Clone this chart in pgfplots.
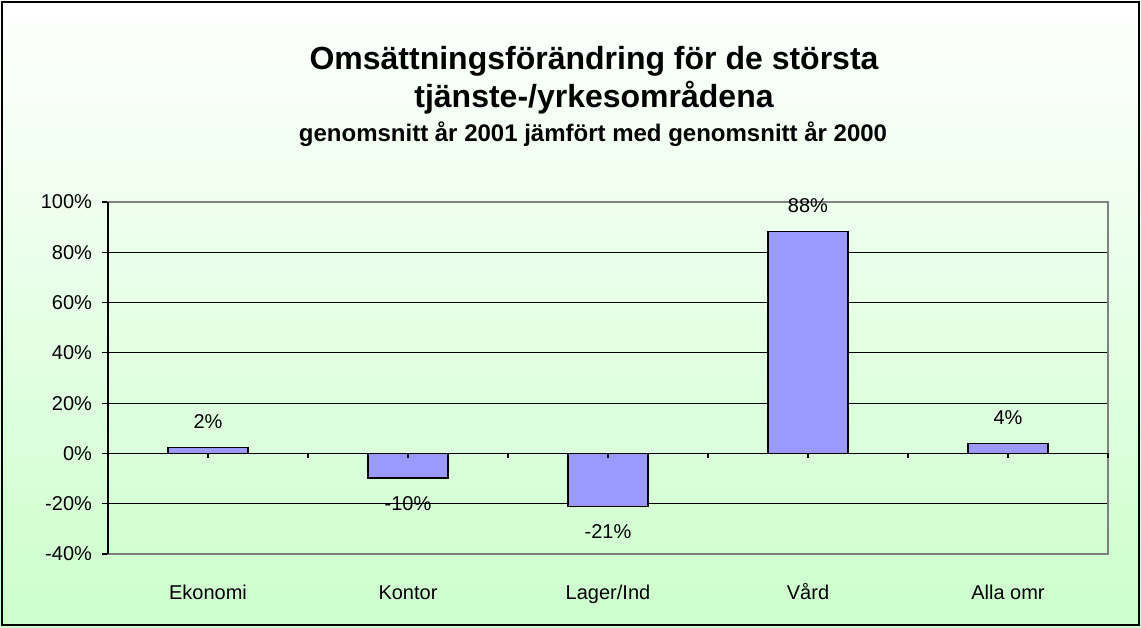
\documentclass[border=0pt]{standalone}
\usepackage{pgfplots}
\pgfplotsset{compat=1.18}
\usepackage{fontspec}
\setmainfont{Liberation Sans}
\definecolor{barfill}{RGB}{153,153,255}
\definecolor{bgbot}{RGB}{204,255,204}
\definecolor{framegray}{RGB}{128,128,128}
\begin{document}
\begin{tikzpicture}
\shade[top color=white, bottom color=bgbot] (0pt,0pt) rectangle (570.5pt,313.5pt);
\draw[black, line width=1.2pt] (0.9pt,0.9pt) rectangle (569.6pt,312.6pt);
\node[anchor=base, inner sep=0pt, font=\fontsize{16}{19}\selectfont\bfseries] at (297pt,278.5pt) {Omsättningsförändring för de största};
\node[anchor=base, inner sep=0pt, font=\fontsize{16}{19}\selectfont\bfseries] at (297pt,259.5pt) {tjänste-/yrkesområdena};
\node[anchor=base, inner sep=0pt, font=\fontsize{12}{14}\selectfont\bfseries] at (296.5pt,242.6pt) {genomsnitt år 2001 jämfört med genomsnitt år 2000};
\begin{axis}[
  at={(54pt,36.5pt)}, anchor=south west,
  scale only axis, width=500pt, height=176pt,
  ybar, bar width=40pt,
  xmin=-0.5, xmax=4.5, ymin=-40, ymax=100,
  axis line style={draw=none},
  clip=false,
  xtick={0,1,2,3,4},
  xticklabels={Ekonomi,Kontor,Lager/Ind,Vård,Alla omr},
  x tick style={draw=none},
  xticklabel style={anchor=base, yshift=-19.5pt, font=\fontsize{10}{12}\selectfont},
  ytick={-40,-20,0,20,40,60,80,100},
  ytick pos=left, ytick align=outside,
  y tick style={black, line width=0.6pt},
  major tick length=3pt,
  yticklabel={\pgfmathprintnumber{\tick}\%},
  yticklabel style={font=\fontsize{10}{12}\selectfont, xshift=-1.5pt},
  /pgf/number format/assume math mode=true,
  ymajorgrids, grid style={black, line width=0.6pt},
  nodes near coords={\pgfmathprintnumber[fixed,precision=0,assume math mode=true]{\pgfplotspointmeta}\%},
  nodes near coords align={vertical},
  every node near coord/.append style={font=\fontsize{10}{12}\selectfont, black, inner ysep=9pt},
]
\addplot[fill=barfill, draw=black, line width=0.6pt] coordinates {(0,2.4) (1,-9.8) (2,-21) (3,88.3) (4,4)};
\draw[framegray, line width=0.75pt] (rel axis cs:0,0) rectangle (rel axis cs:1,1);
\draw[black, line width=1pt] (rel axis cs:0,0) -- (rel axis cs:0,1);
\draw[black, line width=0.8pt] (axis cs:-0.5,0) -- (axis cs:4.5,0);
\pgfplotsinvokeforeach{-0.5,0,0.5,1,1.5,2,2.5,3,3.5,4,4.5}{
  \draw[black, line width=0.6pt] (axis cs:#1,0) -- ([yshift=-2.5pt]axis cs:#1,0);
}
\end{axis}
\end{tikzpicture}
\end{document}
